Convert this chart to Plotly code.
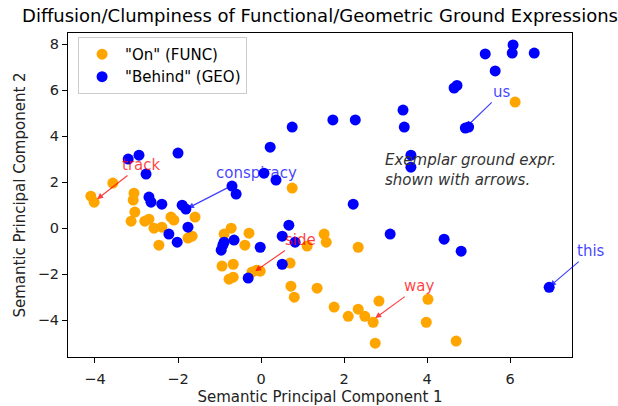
import plotly.graph_objects as go

# "On" (FUNC) points
func_x = [-4.1, -4.02, -3.57, -3.06, -3.08, -3.04, -3.13, -2.8, -2.7, -2.58, -2.39, -2.46,
          -2.17, -2.1, -1.76, -1.66, -1.59, -0.89, -0.72, -0.39, -0.29, -0.94, -0.67, -0.67,
          -0.77, -0.22, -0.1, -0.02, 0.75, 1.52, 1.57, 1.11, 2.34, 0.7, 0.72, 0.8, 1.35,
          1.76, 2.1, 2.34, 2.5, 2.7, 2.84, 2.75, 4.02, 3.98, 4.7, 6.12]
func_y = [1.39, 1.13, 1.96, 1.52, 1.22, 0.7, 0.3, 0.3, 0.39, 0.0, 0.04, -0.74,
          0.48, 0.35, -0.43, -0.35, 0.48, -0.26, 0.0, -0.74, -0.22, -1.65, -1.57, -2.13,
          -2.22, -1.91, -1.83, -1.87, 1.74, -0.26, -0.61, -0.78, -0.83, -1.52, -2.52, -3.0, -2.61,
          -3.43, -3.83, -3.52, -3.83, -4.09, -3.17, -5.0, -3.09, -4.09, -4.91, 5.48]

# "Behind" (GEO) points
geo_x = [-3.2, -2.94, -2.0, -2.77, -2.7, -2.65, -2.39, -1.9, -1.81, -1.76, -2.22, -2.02,
         -0.7, -0.6, -0.92, -0.96, -0.89, -0.65, -0.31, -0.02, 0.07, 0.36, 0.22, 0.75,
         1.73, 2.27, 3.42, 3.45, 3.61, 3.61, 2.22, 0.67, 0.51, 0.51, 0.82, 3.11, 4.41,
         4.82, 6.94, 4.65, 4.72, 4.92, 5.0, 5.4, 6.07, 6.05, 6.58, 5.64]
geo_y = [3.0, 3.17, 3.26, 2.35, 1.35, 1.13, 1.04, 1.0, 0.83, 0.04, -0.26, -0.61,
         1.83, 1.48, -0.74, -0.96, -0.61, -0.52, -2.17, -0.83, 2.39, 2.09, 3.52, 4.39,
         4.7, 4.7, 5.13, 4.39, 3.17, 2.65, 1.04, 0.13, -0.35, -1.57, -0.61, -0.26, -0.48,
         -1.0, -2.57, 6.09, 6.2, 4.35, 4.39, 7.57, 7.96, 7.61, 7.61, 6.83]

# Exemplar annotations: label, point, text position, colour
ann_labels = ["track", "conspiracy", "side", "way", "us", "this"]
ann_px = [-3.95, -1.76, -0.14, 2.75, 4.94, 6.96]
ann_py = [1.26, 0.87, -1.87, -3.91, 4.39, -2.52]
ann_tx = [-2.89, -0.12, 0.94, 3.81, 5.81, 7.95]
ann_ty = [2.74, 2.39, -0.52, -2.52, 5.91, -1.0]
ann_col = ["rgba(255,0,0,0.75)", "rgba(0,0,255,0.75)", "rgba(255,0,0,0.75)",
           "rgba(255,0,0,0.75)", "rgba(0,0,255,0.75)", "rgba(0,0,255,0.75)"]

x_ticks = [-4, -2, 0, 2, 4, 6]
y_ticks = [-4, -2, 0, 2, 4, 6, 8]

FONT = "DejaVu Sans"
BASE = 15

fig = go.Figure()
fig.add_trace(go.Scatter(x=func_x, y=func_y, mode="markers", name='"On" (FUNC)',
                         marker=dict(color="orange", size=11, line=dict(width=0))))
fig.add_trace(go.Scatter(x=geo_x, y=geo_y, mode="markers", name='"Behind" (GEO)',
                         marker=dict(color="blue", size=11, line=dict(width=0))))

for lab, px, py, tx, ty, c in zip(ann_labels, ann_px, ann_py, ann_tx, ann_ty, ann_col):
    fig.add_annotation(x=px, y=py, ax=tx, ay=ty, xref="x", yref="y", axref="x", ayref="y",
                       text=lab, showarrow=True, arrowhead=2, arrowsize=1, arrowwidth=1.2,
                       arrowcolor=c, font=dict(family=FONT, size=BASE, color=c))

fig.add_annotation(x=2.94, y=3.45, xref="x", yref="y", xanchor="left", yanchor="top",
                   text="<i>Exemplar ground expr.<br>shown with arrows.</i>", showarrow=False,
                   align="left", font=dict(family=FONT, size=BASE, color="#333333"))

fig.update_layout(
    width=618, height=406,
    margin=dict(l=68, r=46, t=33, b=49, autoexpand=False),
    paper_bgcolor="white", plot_bgcolor="white",
    font=dict(family=FONT, size=BASE, color="black"),
    title=dict(text="Diffusion/Clumpiness of Functional/Geometric Ground Expressions",
               x=0.5, xref="paper", xanchor="center", y=1 - 16 / 406, yanchor="middle",
               font=dict(family=FONT, size=18, color="black")),
    legend=dict(x=0.02, y=0.988, xanchor="left", yanchor="top", bgcolor="white",
                bordercolor="#cccccc", borderwidth=1, itemwidth=36,
                font=dict(family=FONT, size=BASE)),
    showlegend=True,
)
fig.update_xaxes(range=[-4.65, 7.49], tickvals=x_ticks, showgrid=False, zeroline=False,
                 showline=True, linecolor="black", linewidth=1, mirror=True,
                 ticks="outside", ticklen=5, tickcolor="black", ticklabelstandoff=4,
                 automargin=False,
                 tickfont=dict(family=FONT, size=14.5, color="#222222"),
                 title=dict(text="Semantic Principal Component 1", standoff=8,
                            font=dict(family=FONT, size=BASE, color="#222222")))
fig.update_yaxes(range=[-5.6, 8.48], tickvals=y_ticks, showgrid=False, zeroline=False,
                 showline=True, linecolor="black", linewidth=1, mirror=True,
                 ticks="outside", ticklen=5, tickcolor="black", automargin=False,
                 tickfont=dict(family=FONT, size=14.5, color="#222222"),
                 title=dict(text="Semantic Principal Component 2", standoff=8,
                            font=dict(family=FONT, size=BASE, color="#222222")))

fig.write_html("out.html")
